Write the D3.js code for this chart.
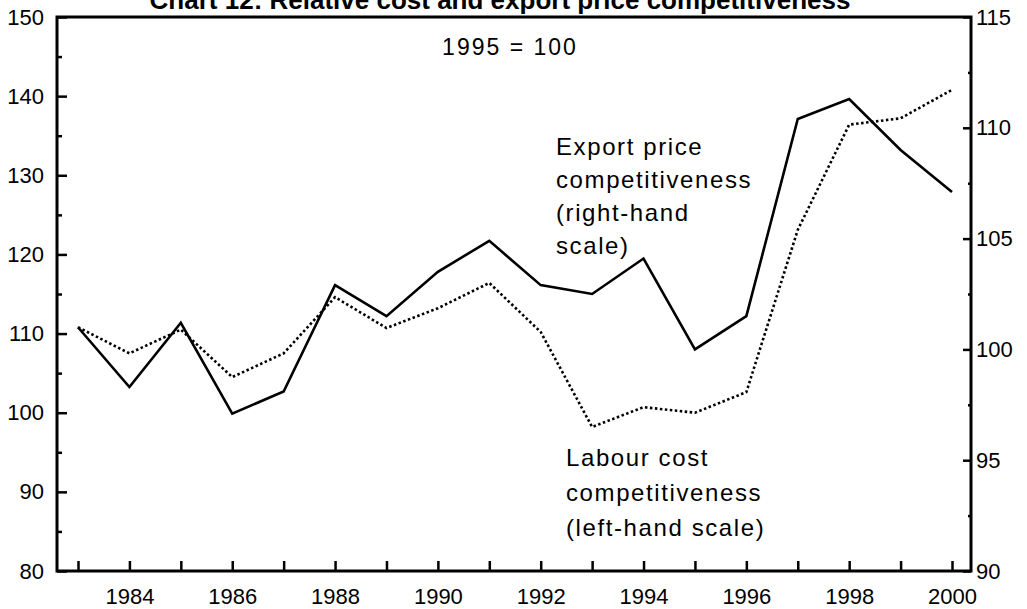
<!DOCTYPE html>
<html>
<head>
<meta charset="utf-8">
<script src="https://cdn.jsdelivr.net/npm/d3@7"></script>
<style>
  body { margin: 0; background: #fff; }
  svg { display: block; font-family: "Liberation Sans", Arial, sans-serif; }
</style>
</head>
<body>
<svg id="chart" width="1027" height="609"></svg>
<script>
// data
const years = d3.range(1983, 2001);
const labourCost = [110.8, 107.5, 110.5, 104.5, 107.5, 114.6, 110.7, 113.2, 116.4, 110.2,
                    98.2, 100.7, 100.0, 102.6, 123.1, 136.4, 137.2, 140.8];   // left-hand scale
const exportPrice = [101.0, 98.3, 101.2, 97.1, 98.1, 102.9, 101.5, 103.5, 104.9, 102.9,
                     102.5, 104.1, 100.0, 101.5, 110.4, 111.3, 109.0, 107.1];   // right-hand scale
const leftTicks = [80, 90, 100, 110, 120, 130, 140, 150];
const leftMinor = [85, 95, 105, 115, 125, 135, 145];
const rightTicks = [90, 95, 100, 105, 110, 115];
const rightMinor = [92.5, 97.5, 102.5, 107.5, 112.5];
const labelYears = [1984, 1986, 1988, 1990, 1992, 1994, 1996, 1998, 2000];

const title = "Chart 12: Relative cost and export price competitiveness";
const baseNote = "1995 = 100";
const exportLabel = ["Export price", "competitiveness", "(right-hand", "scale)"];
const labourLabel = ["Labour cost", "competitiveness", "(left-hand scale)"];

const svg = d3.select("#chart");
const L = 57, R = 971, T = 17, B = 571;

const x = d3.scaleLinear().domain([1983, 2000]).range([78, 952]);
const yL = d3.scaleLinear().domain([80, 150]).range([B, T]);
const yR = d3.scaleLinear().domain([90, 115]).range([B, T]);

// title (clipped at the top like the original)
svg.append("text")
  .attr("x", 500).attr("y", 9)
  .attr("text-anchor", "middle")
  .attr("font-weight", "bold")
  .attr("font-size", 26)
  .text(title);

// left axis
const gl = svg.append("g").attr("transform", `translate(${L},0)`);
gl.call(d3.axisLeft(yL).tickValues(leftTicks).tickSizeInner(-10).tickSizeOuter(0).tickPadding(13));
gl.append("g").call(d3.axisLeft(yL).tickValues(leftMinor).tickSizeInner(-5).tickSizeOuter(0).tickFormat(""));

// right axis
const gr = svg.append("g").attr("transform", `translate(${R},0)`);
gr.call(d3.axisRight(yR).tickValues(rightTicks).tickSizeInner(-8).tickSizeOuter(0).tickPadding(5));
gr.append("g").call(d3.axisRight(yR).tickValues(rightMinor).tickSizeInner(-3).tickSizeOuter(0).tickFormat(""));

// bottom axis
const gb = svg.append("g").attr("transform", `translate(0,${B})`);
gb.call(d3.axisBottom(x).tickValues(years).tickSizeInner(-10).tickSizeOuter(0).tickPadding(17)
  .tickFormat(d => labelYears.includes(d) ? d : ""));

svg.selectAll(".domain").remove();
svg.selectAll(".tick line").attr("stroke", "#000").attr("stroke-width", 2.5);
svg.selectAll(".tick text").attr("font-size", 22).attr("fill", "#000")
  .attr("font-family", "'Liberation Sans', Arial, sans-serif");

// frame
svg.append("rect")
  .attr("x", L).attr("y", T)
  .attr("width", R - L).attr("height", B - T)
  .attr("fill", "none").attr("stroke", "#000").attr("stroke-width", 3);

// series
const lineL = d3.line().x((d, i) => x(years[i])).y(d => yL(d));
const lineR = d3.line().x((d, i) => x(years[i])).y(d => yR(d));

svg.append("path").datum(labourCost)
  .attr("d", lineL)
  .attr("fill", "none").attr("stroke", "#000")
  .attr("stroke-width", 2.6).attr("stroke-dasharray", "2.5,2.5");

svg.append("path").datum(exportPrice)
  .attr("d", lineR)
  .attr("fill", "none").attr("stroke", "#000")
  .attr("stroke-width", 2.6).attr("stroke-linejoin", "miter");

// annotations
svg.append("text")
  .attr("x", 510).attr("y", 55)
  .attr("text-anchor", "middle")
  .attr("font-size", 23).attr("letter-spacing", 2)
  .text(baseNote);

svg.append("g").selectAll("text").data(exportLabel).join("text")
  .attr("x", 556).attr("y", (d, i) => 155 + i * 33)
  .attr("font-size", 24).attr("letter-spacing", 1.6)
  .text(d => d);

svg.append("g").selectAll("text").data(labourLabel).join("text")
  .attr("x", 566).attr("y", (d, i) => 466 + i * 35)
  .attr("font-size", 24).attr("letter-spacing", 1.6)
  .text(d => d);
</script>
</body>
</html>
